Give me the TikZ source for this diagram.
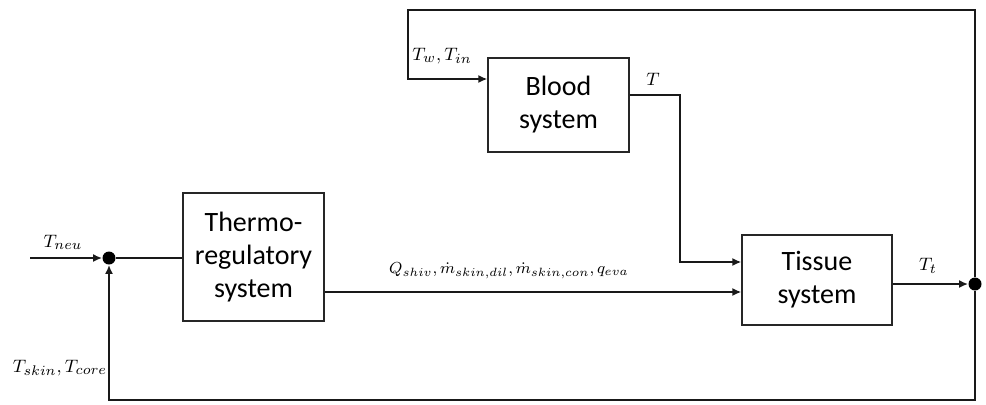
\documentclass[tikz,border=0pt]{standalone}
\usepackage{fontspec}
\setsansfont{Carlito}
\usetikzlibrary{arrows.meta,calc}
\begin{document}
\begin{tikzpicture}[x=0.5pt,y=-0.5pt,
  blk/.style={draw=black!85,line width=0.6pt,inner sep=0pt,font=\sffamily\fontsize{14}{16.5}\selectfont,align=center},
  sig/.style={line width=1pt,draw=black!90},
  arr/.style={sig,-{Latex[length=4.5pt,width=4pt]}},
  dotj/.style={circle,fill=black,inner sep=0pt,minimum size=6.5pt},
  lab/.style={font=\fontsize{9.5}{11}\selectfont,inner sep=1pt}]
\useasboundingbox (0,0) rectangle (986,404);
% blocks
\node[blk,minimum width=70.5pt,minimum height=47pt] (blood) at (558.5,105) {Blood\\system};
\node[blk,minimum width=70.5pt,minimum height=64pt] (thermo) at (253.5,257) {Thermo-\\regulatory\\system};
\node[blk,minimum width=75pt,minimum height=45pt] (tissue) at (817,280) {Tissue\\system};
% junctions
\node[dotj] (jL) at (109,258) {};
\node[dotj] (jR) at (975,284) {};
% helper coordinates
\coordinate (in) at (30,258);
\coordinate (tr) at (975,10);
\coordinate (tl) at (408,10);
\coordinate (tlb) at (408,79);
\coordinate (br) at (975,400);
\coordinate (bl) at (109,400);
\coordinate (bo) at (680,95);
\coordinate (bd) at (680,262);
% connectors
\draw[arr] (in) -- (jL);
\draw[sig] (jL) -- (jL -| thermo.west);
\draw[arr] ($(thermo.east)+(0,35)$) -- ($(tissue.west)+(0,12)$) coordinate (q);
\draw[arr] (tissue.east |- jR) -- (jR);
\draw[arr] (jR) -- (tr) -- (tl) -- (tlb) -- (tlb -| blood.west);
\draw[arr] (bo -| blood.east) -- (bo) -- (bd) -- (bd -| tissue.west);
\draw[arr] (jR) -- (br) -- (bl) -- (jL);
% labels
\node[lab] (lneu) at (63,242) {$T_{neu}$};
\node[lab] (lskin) at (60,368) {$T_{skin}, T_{core}$};
\node[lab] (lw) at (442,56) {$T_w, T_{in}$};
\node[lab] (lt) at (653,79) {$T$};
\node[lab,font=\fontsize{8.5}{10}\selectfont] (lq) at (509,271) {$Q_{shiv}, \dot m_{skin,dil}, \dot m_{skin,con}, q_{eva}$};
\node[lab] (ltt) at (928,266) {$T_t$};
\end{tikzpicture}
\end{document}
